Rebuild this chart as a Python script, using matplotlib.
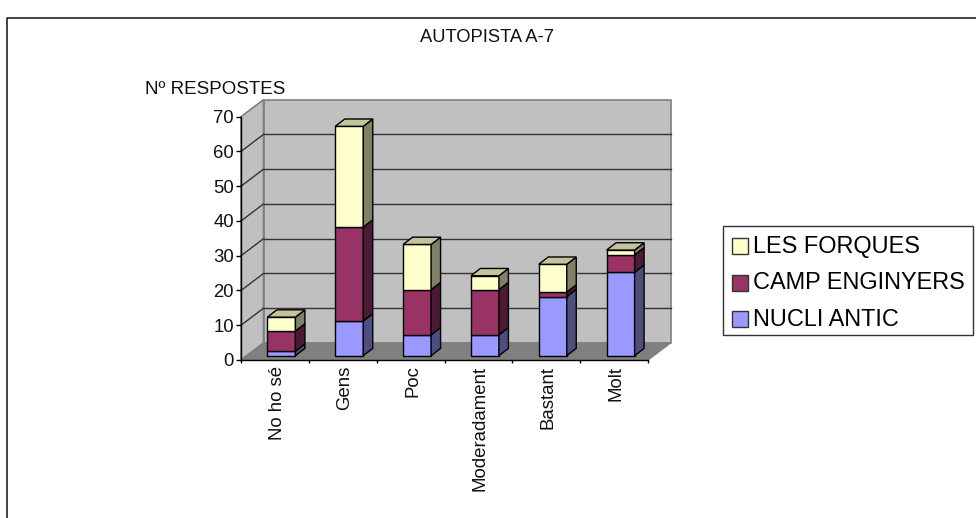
import matplotlib
matplotlib.use("Agg")
import matplotlib.pyplot as plt
from matplotlib.patches import Polygon, Rectangle

categories = ["No ho sé", "Gens", "Poc", "Moderadament", "Bastant", "Molt"]
nucli_antic = [1.3, 10, 6, 6, 17, 24]
camp_enginyers = [5.8, 27, 13, 13, 1.3, 5]
les_forques = [4, 29, 13, 4, 8, 1.4]
series_names = ["NUCLI ANTIC", "CAMP ENGINYERS", "LES FORQUES"]
yticks = [0, 10, 20, 30, 40, 50, 60, 70]

W, H = 976, 518
FRONT, SIDE, TOP = 0, 1, 2
colors = {
    "NUCLI ANTIC": ("#9999ff", "#4d4d80", "#7a7acc"),
    "CAMP ENGINYERS": ("#993366", "#4d1a33", "#7a2952"),
    "LES FORQUES": ("#ffffcc", "#808066", "#c4c49c"),
}

plt.rcParams["font.family"] = ["Liberation Sans", "DejaVu Sans"]
fig = plt.figure(figsize=(W / 100, H / 100), dpi=100)

# frame of the whole chart, open on the right
bg = fig.add_axes([0, 0, 1, 1])
bg.set_xlim(0, W)
bg.set_ylim(H, 0)
bg.axis("off")
bg.plot([6.5, 6.5, 976], [518, 18, 18], color="#111111", lw=1.1)

x0, x1, ytop, ybot = 241, 648, 116.7, 360
ax = fig.add_axes([x0 / W, 1 - ybot / H, (x1 - x0) / W, (ybot - ytop) / H])
ax.set_xlim(0, len(categories))
ax.set_ylim(0, 70)
ax.patch.set_visible(False)
for s in ["top", "right"]:
    ax.spines[s].set_visible(False)
ax.spines["left"].set_linewidth(1)
ax.spines["bottom"].set_linewidth(1)

# depth of the 3d box in data units
px_x = len(categories) / (x1 - x0)
px_y = 70 / (ybot - ytop)
DX = 22.5 * px_x
DY = 17 * px_y


def poly(pts, fc, ec="black", lw=1.0, z=2):
    ax.add_patch(Polygon(pts, closed=True, facecolor=fc, edgecolor=ec, lw=lw,
                         zorder=z, clip_on=False, joinstyle="miter"))


n = len(categories)
poly([(DX, DY), (n + DX, DY), (n + DX, 70 + DY), (DX, 70 + DY)], "#c0c0c0", "#808080", 1.2, 1)
poly([(0, 0), (DX, DY), (DX, 70 + DY), (0, 70)], "#c0c0c0", "#808080", 1.2, 1)
poly([(0, 0), (n, 0), (n + DX, DY), (DX, DY)], "#808080", "#808080", 1, 1)
for v in yticks[1:-1]:
    ax.plot([DX, n + DX], [v + DY, v + DY], color="#333333", lw=1, zorder=1.5, clip_on=False)
    ax.plot([0, DX], [v, v + DY], color="#333333", lw=1, zorder=1.5, clip_on=False)

# bars sit in the middle of the floor depth
bar_w = 28 * px_x
off_x = 6.5 * px_x
off_y = 4.3 * px_y
bd_x = 9.5 * px_x
bd_y = 7.3 * px_y
series = [nucli_antic, camp_enginyers, les_forques]
for i in range(n):
    left = i + 0.5 - bar_w / 2 + off_x
    right = left + bar_w
    base = off_y
    for name, vals in zip(series_names, series):
        top = base + vals[i]
        c = colors[name]
        poly([(left, base), (right, base), (right, top), (left, top)], c[FRONT], z=3)
        poly([(right, base), (right + bd_x, base + bd_y), (right + bd_x, top + bd_y), (right, top)], c[SIDE], z=3)
        base = top
    c = colors[series_names[-1]]
    poly([(left, base), (right, base), (right + bd_x, base + bd_y), (left + bd_x, base + bd_y)], c[TOP], z=3)

ax.set_yticks(yticks)
ax.set_yticklabels(yticks, fontsize=13.3, color="#111111")
ax.set_xticks(range(n + 1))
ax.set_xticklabels([])
ax.tick_params(axis="y", length=3.5, width=1, pad=1.5)
ax.tick_params(axis="x", length=2.5, width=1)
for i, name in enumerate(categories):
    ax.annotate(name, (i + 0.5, 0), xytext=(1.5, -4), textcoords="offset points",
                rotation=90, ha="center", va="top", fontsize=13.4, color="#111111")

bg.text(487, 37, "AUTOPISTA A-7", ha="center", va="center", fontsize=13.2, color="#111111")
bg.text(145, 89.5, "Nº RESPOSTES", ha="left", va="center", fontsize=13.5, color="#111111")

# legend box
bg.add_patch(Rectangle((723, 226), 250, 109, fc="white", ec="#333333", lw=1))
for y, name in zip([246, 282.5, 319], reversed(series_names)):
    bg.add_patch(Rectangle((732, y - 8), 16, 16, fc=colors[name][FRONT], ec="#333333", lw=1))
    bg.text(753, y, name, ha="left", va="center", fontsize=16.9, color="black")

fig.savefig("out.png", dpi=100)
